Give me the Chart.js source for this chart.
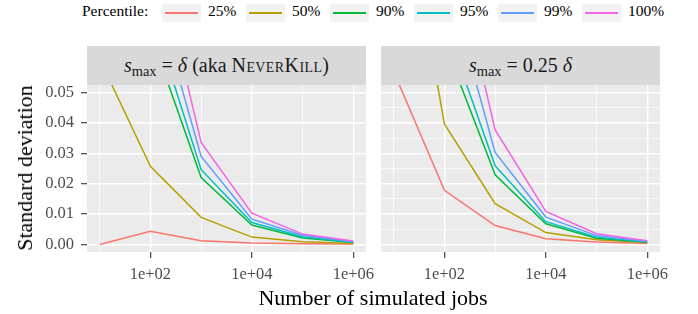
<!DOCTYPE html>
<html>
<head>
<meta charset="utf-8">
<script src="https://cdn.jsdelivr.net/npm/chart.js@4.4.0/dist/chart.umd.min.js"></script>
<style>
  body { margin: 0; width: 698px; height: 314px; background: #fff; position: relative; overflow: hidden;
         font-family: "Liberation Serif", "DejaVu Serif", serif; color: #000; }
  .abs { position: absolute; }
  .strip { position: absolute; top: 46px; height: 39px; background: #d9d9d9; color: #1a1a1a;
           font-size: 20px; display: flex; align-items: center; justify-content: center; white-space: nowrap; }
  .strip sub { font-size: 0.72em; vertical-align: -0.3em; line-height: 0; }
  .sc { font-variant: small-caps; letter-spacing: 0.4px; }
  .key { position: absolute; top: 4px; width: 39px; height: 18px; background: #f2f2f2; }
  .key div { position: absolute; left: 3px; right: 3px; top: 8px; height: 2px; }
  .ltxt { position: absolute; top: 1px; font-size: 15.5px; line-height: 20px; }
  .panel { position: absolute; top: 85px; height: 229px; }
</style>
</head>
<body>
<div class="ltxt" style="left:82px">Percentile:</div>
<div id="legend"></div>

<div class="strip" style="left:87px;width:279px"><span><i>s</i><sub>max</sub> = <i>δ</i> (aka <span class="sc">NeverKill</span>)</span></div>
<div class="strip" style="left:381px;width:279px"><span><i>s</i><sub>max</sub> = 0.25 <i>δ</i></span></div>

<div class="panel" style="left:0;width:391px"><canvas id="left" width="391" height="229"></canvas></div>
<div class="panel" style="left:381px;width:304px"><canvas id="right" width="304" height="229"></canvas></div>

<div class="abs" style="left:25px;top:168px;transform:translate(-50%,-50%) rotate(-90deg);font-size:22px;white-space:nowrap">Standard deviation</div>
<div class="abs" style="left:373px;top:298px;transform:translate(-50%,-50%);font-size:22px;white-space:nowrap">Number of simulated jobs</div>

<script>
// число симульованих задач (вісь x)
const jobs = [1e1, 1e2, 1e3, 1e4, 1e5, 1e6];
const percentiles = ['25%', '50%', '90%', '95%', '99%', '100%'];
const seriesColors = ['#F8766D', '#B79F00', '#00BA38', '#00BFC4', '#619CFF', '#F564E3'];

// s_max = delta (NeverKill)
const nk25  = [0.0000, 0.0043, 0.0012, 0.0005, 0.0002, 0.0001];
const nk50  = [0.061, 0.0257, 0.0089, 0.0024, 0.0009, 0.0003];
const nk90  = [null, 0.0696, 0.0220, 0.0064, 0.0021, 0.0006];
const nk95  = [null, 0.0773, 0.0246, 0.0072, 0.0025, 0.0007];
const nk99  = [null, 0.0880, 0.0290, 0.0083, 0.0030, 0.0009];
const nk100 = [null, 0.1040, 0.0336, 0.0103, 0.0034, 0.0011];

// s_max = 0.25 delta
const q25  = [0.0569, 0.0178, 0.0062, 0.0019, 0.0008, 0.0003];
const q50  = [0.134, 0.0397, 0.0134, 0.0039, 0.0015, 0.0006];
const q90  = [null, 0.0664, 0.0229, 0.0068, 0.0020, 0.0007];
const q95  = [null, 0.0733, 0.0259, 0.0075, 0.0024, 0.0008];
const q99  = [null, 0.0913, 0.0303, 0.0090, 0.0029, 0.0010];
const q100 = [null, 0.1095, 0.0377, 0.0109, 0.0035, 0.0012];

const xTicks = [1e1, 1e2, 1e3, 1e4, 1e5, 1e6];
const xTickLabels = ['', '1e+02', '', '1e+04', '', '1e+06'];
const yTicks = [0, 0.005, 0.01, 0.015, 0.02, 0.025, 0.03, 0.035, 0.04, 0.045, 0.05];
const yTickLabels = ['0.00', '', '0.01', '', '0.02', '', '0.03', '', '0.04', '', '0.05'];

// легенда
const legend = document.getElementById('legend');
percentiles.forEach((p, i) => {
    const x = 162 + i * 84;
    legend.insertAdjacentHTML('beforeend',
        `<div class="key" style="left:${x}px"><div style="background:${seriesColors[i]}"></div></div>` +
        `<div class="ltxt" style="left:${x + 46}px">${p}</div>`);
});

// сірий фон панелі, як у ggplot
const panelBg = {
    id: 'panelBg',
    beforeDraw(chart) {
        const a = chart.chartArea, c = chart.ctx;
        c.save();
        c.fillStyle = '#ebebeb';
        c.fillRect(a.left, a.top, a.right - a.left, a.bottom - a.top);
        c.restore();
    }
};

Chart.defaults.font.family = 'Liberation Serif';
Chart.defaults.font.size = 16.5;
const tickFont = { family: 'Liberation Serif', size: 16.5 };

function makePanel(id, series, showY) {
    const ctx = document.getElementById(id).getContext('2d');
    return new Chart(ctx, {
        type: 'line',
        data: {
            datasets: series.map((arr, i) => ({
                label: percentiles[i],
                data: jobs.map((x, j) => ({ x: x, y: arr[j] })),
                borderColor: seriesColors[i],
                borderWidth: 1.5,
                pointRadius: 0,
                tension: 0,
                order: series.length - 1 - i
            }))
        },
        options: {
            responsive: false,
            animation: false,
            events: [],
            layout: { padding: { left: 0, top: 0, bottom: 0, right: 25 } },
            plugins: { legend: { display: false }, tooltip: { enabled: false } },
            scales: {
                x: {
                    type: 'logarithmic',
                    min: Math.pow(10, 0.75),
                    max: Math.pow(10, 6.25),
                    afterBuildTicks: s => { s.ticks = xTicks.map(v => ({ value: v })); },
                    afterFit: s => { s.height = 62; s.paddingLeft = 0; s.paddingRight = 0; },
                    ticks: {
                        autoSkip: false, maxRotation: 0, padding: 7,
                        color: '#4d4d4d', font: tickFont,
                        callback: (v, i) => xTickLabels[i]
                    },
                    grid: {
                        color: '#ffffff',
                        lineWidth: c => xTickLabels[c.index] ? 1.4 : 0.7,
                        tickColor: c => xTickLabels[c.index] ? '#333333' : 'rgba(0,0,0,0)',
                        tickWidth: 1.1,
                        tickLength: 6
                    },
                    border: { display: false }
                },
                y: {
                    type: 'linear',
                    min: -0.0025,
                    max: 0.0525,
                    afterBuildTicks: s => { s.ticks = yTicks.map(v => ({ value: v })); },
                    afterFit: s => { s.width = showY ? 87 : 0; s.paddingTop = 0; s.paddingBottom = 0; },
                    ticks: {
                        display: showY, padding: 7,
                        color: '#4d4d4d', font: tickFont,
                        callback: (v, i) => yTickLabels[i]
                    },
                    grid: {
                        color: '#ffffff',
                        lineWidth: c => yTickLabels[c.index] ? 1.4 : 0.7,
                        tickColor: c => yTickLabels[c.index] ? '#333333' : 'rgba(0,0,0,0)',
                        tickWidth: 1.1,
                        tickLength: 6,
                        drawTicks: showY
                    },
                    border: { display: false }
                }
            }
        },
        plugins: [panelBg]
    });
}

makePanel('left', [nk25, nk50, nk90, nk95, nk99, nk100], true);
makePanel('right', [q25, q50, q90, q95, q99, q100], false);
</script>
</body>
</html>
